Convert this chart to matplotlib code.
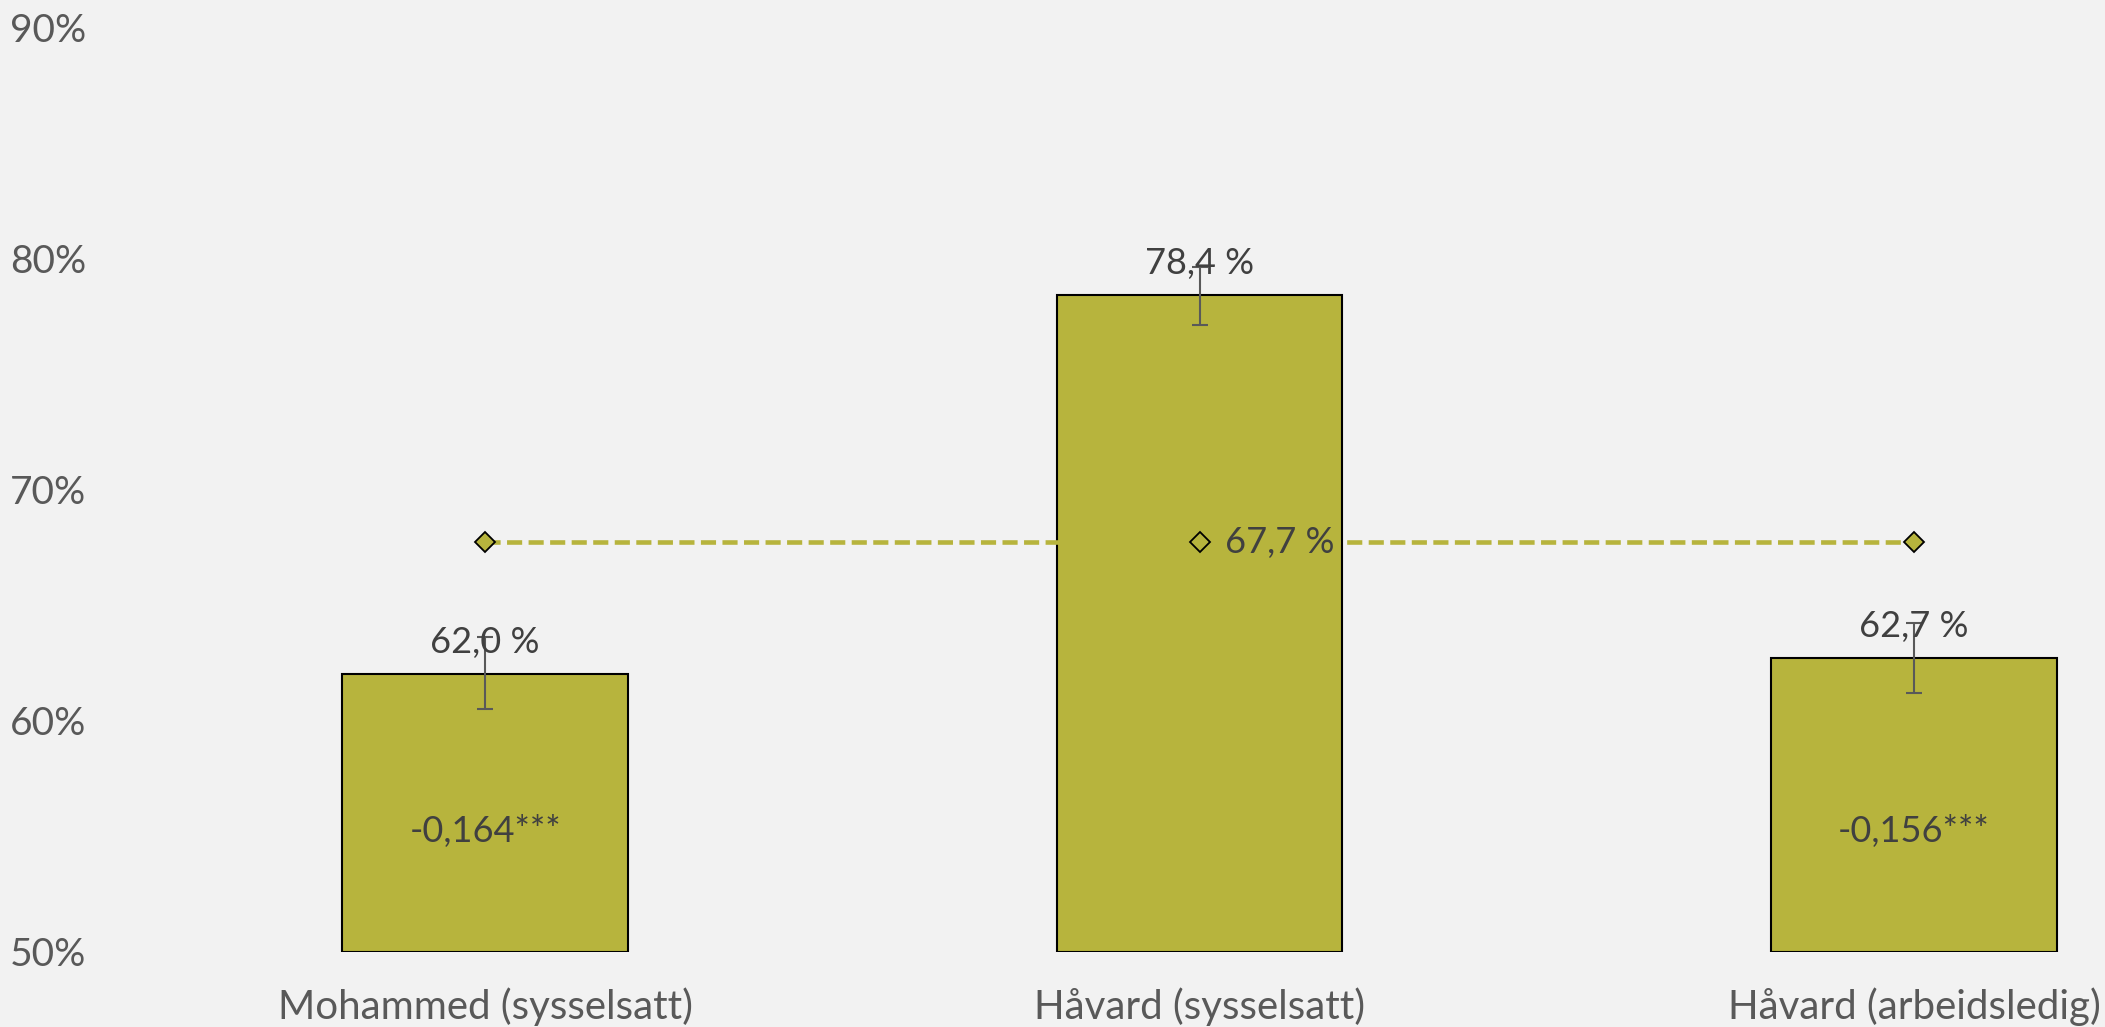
import matplotlib.pyplot as plt

plt.rcParams['font.family'] = ['Lato', 'DejaVu Sans']

# data
kategorier = ['Mohammed (sysselsatt)', 'Håvard (sysselsatt)', 'Håvard (arbeidsledig)']
andel = [62.0, 78.4, 62.7]
feil_opp = [1.6, 1.2, 1.5]
feil_ned = [1.5, 1.3, 1.5]
snitt = [67.7, 67.7, 67.7]
effekt = ['-0,164***', '', '-0,156***']
yticks = [50, 60, 70, 80, 90]

bg = '#F2F2F2'
oliven = '#B7B43D'
tekst = '#404040'
akse = '#595959'

fig = plt.figure(figsize=(21.05, 10.27), dpi=100, facecolor=bg)
ax = fig.add_axes([128 / 2105, 75.5 / 1027, 1 - 128 / 2105, (1000 - 75.5) / 1027])
ax.set_facecolor(bg)

x = list(range(len(kategorier)))
ax.bar(x, [v - 50 for v in andel], bottom=50, width=0.4, color=oliven,
       edgecolor='black', linewidth=1.5, zorder=2)
ax.errorbar(x, andel, yerr=[feil_ned, feil_opp], fmt='none', ecolor=akse,
            elinewidth=1.5, capsize=6, capthick=1.5, zorder=3)

ax.plot(x, snitt, color=oliven, lw=3.3, dashes=(3.3, 1.4), marker='D',
        markersize=10, markerfacecolor=oliven, markeredgecolor='black',
        markeredgewidth=1.3, zorder=4)

for i, v in enumerate(andel):
    ax.annotate(f'{v:.1f} %'.replace('.', ','), (i, v), xytext=(0, 23),
                textcoords='offset points', ha='center', va='center',
                fontsize=26, color=tekst, zorder=5)
    if effekt[i]:
        ax.text(i, 55.2, effekt[i], ha='center', va='center', fontsize=26,
                color=tekst, zorder=5)

ax.annotate(f'{snitt[1]:.1f} %'.replace('.', ','), (1, snitt[1]), xytext=(18, 0),
            textcoords='offset points', ha='left', va='center',
            fontsize=26, color=tekst, zorder=5)

ax.set_xlim(-0.5, (2105 - 485) / 714.5)
ax.set_ylim(50, 90)
ax.set_yticks(yticks)
ax.set_yticklabels([f'{t}%' for t in yticks])
ax.set_xticks(x)
ax.set_xticklabels(kategorier)
ax.tick_params(axis='y', length=0, pad=30, labelsize=28, labelcolor=akse)
ax.tick_params(axis='x', length=0, pad=26, labelsize=29, labelcolor=akse)
for s in ax.spines.values():
    s.set_visible(False)

fig.savefig('out.png', dpi=100, facecolor=bg)
